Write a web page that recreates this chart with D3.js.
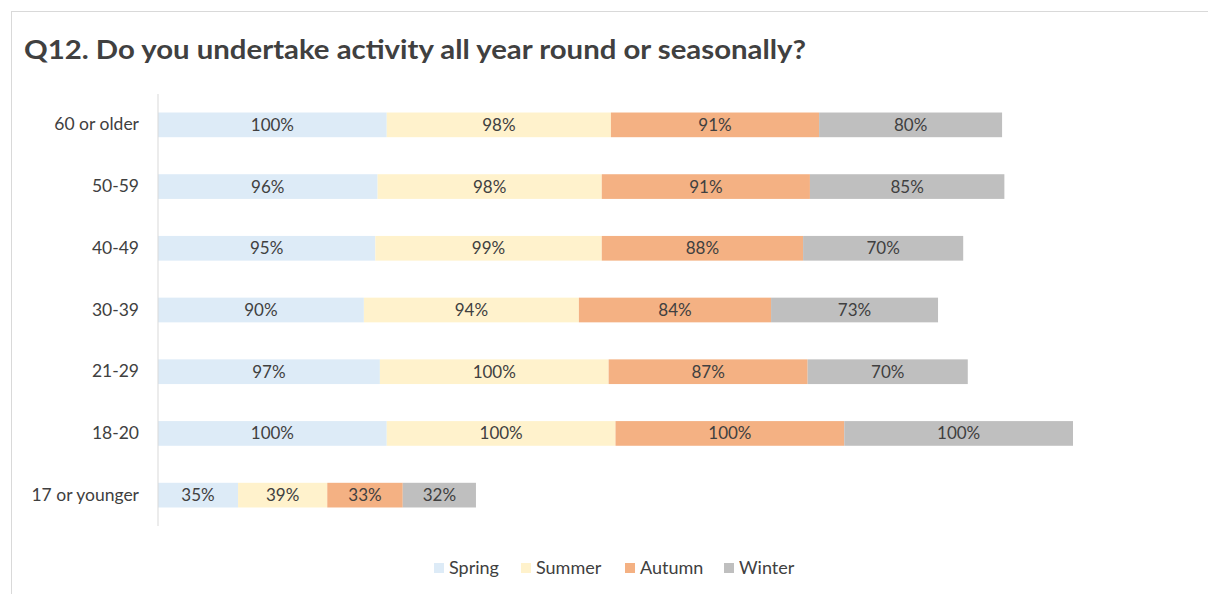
<!DOCTYPE html>
<html><head><meta charset="utf-8">
<script src="https://cdn.jsdelivr.net/npm/d3@7"></script>
<style>body{margin:0;background:#fff}svg{display:block}</style>
</head><body><svg id="c" width="1208" height="594"></svg>
<script>
const categories = ["60 or older","50-59","40-49","30-39","21-29","18-20","17 or younger"];
const seriesNames = ["Spring","Summer","Autumn","Winter"];
const spring = [100,96,95,90,97,100,35];
const summer = [98,98,99,94,100,100,39];
const autumn = [91,91,88,84,87,100,33];
const winter = [80,85,70,73,70,100,32];
const colors = ["#DDEBF7","#FFF2CC","#F4B183","#BFBFBF"];
const title = "Q12. Do you undertake activity all year round or seasonally?";

const svg = d3.select("#c");
const font = "Lato, 'Open Sans', sans-serif";
const txt = "#404040";

svg.append("rect").attr("x",11.5).attr("y",11.5).attr("width",1300).attr("height",700)
  .attr("fill","#fff").attr("stroke","#D9D9D9").attr("stroke-width",1);

svg.append("text").attr("x",24).attr("y",59).text(title)
  .attr("font-family",font).attr("font-weight","bold").attr("font-size",27).attr("fill",txt)
  .attr("textLength",782).attr("lengthAdjust","spacingAndGlyphs");

const rows = categories.map((c,i)=>({cat:c, Spring:spring[i], Summer:summer[i], Autumn:autumn[i], Winter:winter[i]}));
const stacked = d3.stack().keys(seriesNames)(rows);

const x = d3.scaleLinear().domain([0,400]).range([158,1073]);
const y = d3.scaleBand().domain(categories).range([94,526]).paddingInner(0.6).paddingOuter(0.3);

const g = svg.append("g");
stacked.forEach((s,si)=>{
  const gs = g.append("g");
  gs.selectAll("rect").data(s).join("rect")
    .attr("x",d=>x(d[0])).attr("width",d=>x(d[1])-x(d[0]))
    .attr("y",d=>y(d.data.cat)).attr("height",y.bandwidth())
    .attr("fill",colors[si]);
  gs.selectAll("text").data(s).join("text")
    .attr("x",d=>(x(d[0])+x(d[1]))/2).attr("y",d=>y(d.data.cat)+y.bandwidth()/2)
    .attr("dy","0.35em").attr("text-anchor","middle")
    .attr("font-family",font).attr("font-size",17).attr("fill",txt)
    .text(d=>(d[1]-d[0])+"%");
});

const yAxis = d3.axisLeft(y).tickSize(0).tickPadding(19);
const ya = svg.append("g").attr("transform","translate(158,0)").call(yAxis);
ya.select(".domain").attr("stroke","#D9D9D9").attr("d","M0,94V526");
ya.selectAll("text").attr("font-family",font).attr("font-size",17.5).attr("fill",txt);

const legendX = [434,521,625,724];
const lg = svg.append("g");
seriesNames.forEach((n,i)=>{
  lg.append("rect").attr("x",legendX[i]).attr("y",563).attr("width",10).attr("height",10).attr("fill",colors[i]);
  lg.append("text").attr("x",legendX[i]+15).attr("y",568).attr("dy","0.35em")
    .attr("font-family",font).attr("font-size",18).attr("fill",txt).text(n);
});
</script></body></html>
